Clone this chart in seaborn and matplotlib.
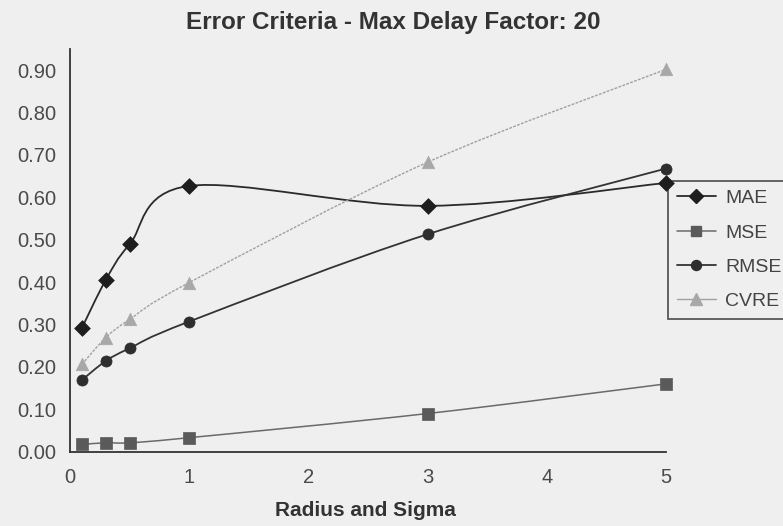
import numpy as np
import matplotlib
matplotlib.use("Agg")
import matplotlib.pyplot as plt
from matplotlib.path import Path
from matplotlib.patches import PathPatch
from matplotlib.lines import Line2D
import seaborn as sns
import pandas as pd

x_vals = [0.1, 0.3, 0.5, 1, 3, 5]
mae = [0.292, 0.405, 0.489, 0.627, 0.580, 0.634]
mse = [0.017, 0.021, 0.021, 0.033, 0.090, 0.160]
rmse = [0.169, 0.214, 0.244, 0.307, 0.513, 0.668]
cvre = [0.206, 0.269, 0.312, 0.399, 0.683, 0.902]
series_names = ["MAE", "MSE", "RMSE", "CVRE"]
y_ticks = [0.0, 0.1, 0.2, 0.3, 0.4, 0.5, 0.6, 0.7, 0.8, 0.9]
x_ticks = [0, 1, 2, 3, 4, 5]

sns.set_style("white")
plt.rcParams['font.family'] = ['Liberation Sans', 'DejaVu Sans']

bg = "#efefef"
fig = plt.figure(figsize=(7.83, 5.26), dpi=100, facecolor=bg)
ax = fig.add_axes([0.0894, 0.1413, 0.7612, 0.7655], facecolor=bg)

styles = {
    "MAE": dict(marker="D", mcolor="#1e1e1e", lcolor="#2a2a2a", lw=1.3, ls="-", ms=8),
    "MSE": dict(marker="s", mcolor="#5a5a5a", lcolor="#6a6a6a", lw=1.1, ls="-", ms=8),
    "RMSE": dict(marker="o", mcolor="#2e2e2e", lcolor="#333333", lw=1.3, ls="-", ms=8),
    "CVRE": dict(marker="^", mcolor="#a8a8a8", lcolor="#a0a0a0", lw=1.0, ls=(0, (2, 1)), ms=9),
}
values = {"MAE": mae, "MSE": mse, "RMSE": rmse, "CVRE": cvre}

def smooth_path(xs, ys):
    pts = np.column_stack([xs, ys]).astype(float)
    n = len(pts)
    verts = [pts[0]]
    codes = [Path.MOVETO]
    for i in range(n - 1):
        p0 = pts[i - 1] if i > 0 else pts[i]
        p1 = pts[i]
        p2 = pts[i + 1]
        p3 = pts[i + 2] if i + 2 < n else pts[i + 1]
        c1 = p1 + (p2 - p0) / 6.0
        c2 = p2 - (p3 - p1) / 6.0
        verts += [c1, c2, p2]
        codes += [Path.CURVE4] * 3
    return Path(verts, codes)

rows = []
for name in series_names:
    for xv, yv in zip(x_vals, values[name]):
        rows.append({"x": xv, "y": yv, "series": name})
df = pd.DataFrame(rows)

for name in series_names:
    st = styles[name]
    sub = df[df.series == name]
    patch = PathPatch(smooth_path(sub.x.values, sub.y.values), facecolor="none",
                      edgecolor=st["lcolor"], lw=st["lw"], linestyle=st["ls"], zorder=2)
    ax.add_patch(patch)
    sns.scatterplot(data=sub, x="x", y="y", marker=st["marker"], color=st["mcolor"],
                    s=st["ms"] ** 2, edgecolor=st["mcolor"], linewidth=0.5, ax=ax,
                    zorder=7, clip_on=False, legend=False)

ax.set_xlim(0, 5)
ax.set_ylim(0, 0.95)
ax.set_xticks(x_ticks)
ax.set_yticks(y_ticks)
ax.set_yticklabels([f"{v:.2f}" for v in y_ticks])
ax.set_xlabel("")
ax.set_ylabel("")
for s in ["top", "right"]:
    ax.spines[s].set_visible(False)
for s in ["left", "bottom"]:
    ax.spines[s].set_color("#333333")
    ax.spines[s].set_linewidth(1.3)
ax.tick_params(axis="both", direction="in", length=5, width=1.1, color="#333333",
               labelsize=14.5, labelcolor="#4a4a4a")
ax.tick_params(axis="y", pad=10)
ax.tick_params(axis="x", pad=12)

fig.text(0.502, 0.958, "Error Criteria - Max Delay Factor: 20", ha="center", va="center",
         fontsize=17.5, fontweight="bold", color="#333333")
fig.text(0.467, 0.03, "Radius and Sigma", ha="center", va="center",
         fontsize=15, fontweight="bold", color="#333333")

handles = []
for name in series_names:
    st = styles[name]
    handles.append(Line2D([0], [0], color=st["lcolor"], lw=st["lw"], marker=st["marker"],
                          markersize=st["ms"] * 0.9, markerfacecolor=st["mcolor"],
                          markeredgecolor=st["mcolor"]))
leg = ax.legend(handles, series_names, loc="upper left", bbox_to_anchor=(0.853, 0.656),
                bbox_transform=fig.transFigure,
                frameon=True, fancybox=False, fontsize=14, handlelength=2.0,
                handletextpad=0.5, labelspacing=0.86, borderpad=0.45,
                borderaxespad=0, labelcolor="#444444")
leg.set_zorder(5)
leg.get_frame().set_edgecolor("#333333")
leg.get_frame().set_linewidth(1.3)
leg.get_frame().set_facecolor(bg)

fig.savefig("out.png", dpi=100, facecolor=bg)
